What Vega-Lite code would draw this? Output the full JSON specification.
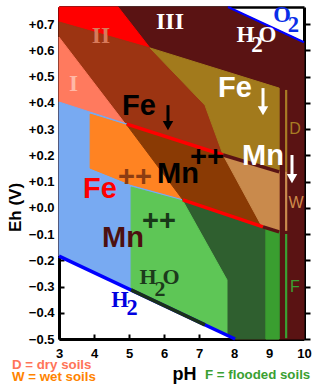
{
  "$schema": "https://vega.github.io/schema/vega-lite/v6.json",
  "width": 245,
  "height": 332,
  "autosize": {"type": "none"},
  "padding": {"left": 59, "top": 7, "right": 16, "bottom": 47},
  "background": "white",
  "config": {
    "view": {"stroke": null},
    "font": "Liberation Sans",
    "axis": {"zindex": 1, "grid": false, "domainColor": "black", "tickColor": "black", "labelColor": "black", "titleColor": "black"}
  },
  "datasets": {
    "regions": [
      {"poly": "a_maroon", "i": 0, "pH": 3, "Eh": 0.765},
      {"poly": "a_maroon", "i": 1, "pH": 7.83, "Eh": 0.765},
      {"poly": "a_maroon", "i": 2, "pH": 10, "Eh": 0.631},
      {"poly": "a_maroon", "i": 3, "pH": 10, "Eh": -0.5},
      {"poly": "a_maroon", "i": 4, "pH": 8.03, "Eh": -0.5},
      {"poly": "a_maroon", "i": 5, "pH": 3, "Eh": -0.184},
      {"poly": "b_red", "i": 0, "pH": 3, "Eh": 0.765},
      {"poly": "b_red", "i": 1, "pH": 4.69, "Eh": 0.765},
      {"poly": "b_red", "i": 2, "pH": 5.6, "Eh": 0.609},
      {"poly": "b_red", "i": 3, "pH": 3, "Eh": 0.708},
      {"poly": "c_rust", "i": 0, "pH": 3, "Eh": 0.708},
      {"poly": "c_rust", "i": 1, "pH": 5.6, "Eh": 0.609},
      {"poly": "c_rust", "i": 2, "pH": 7.17, "Eh": 0.391},
      {"poly": "c_rust", "i": 3, "pH": 7.69, "Eh": 0.201},
      {"poly": "c_rust", "i": 4, "pH": 4.91, "Eh": 0.317},
      {"poly": "c_rust", "i": 5, "pH": 3, "Eh": 0.65},
      {"poly": "d_gold", "i": 0, "pH": 5.6, "Eh": 0.609},
      {"poly": "d_gold", "i": 1, "pH": 9.29, "Eh": 0.456},
      {"poly": "d_gold", "i": 2, "pH": 9.29, "Eh": 0.139},
      {"poly": "d_gold", "i": 3, "pH": 7.69, "Eh": 0.201},
      {"poly": "d_gold", "i": 4, "pH": 7.17, "Eh": 0.391},
      {"poly": "e_salmon", "i": 0, "pH": 3, "Eh": 0.65},
      {"poly": "e_salmon", "i": 1, "pH": 4.91, "Eh": 0.317},
      {"poly": "e_salmon", "i": 2, "pH": 3, "Eh": 0.403},
      {"poly": "f_blue", "i": 0, "pH": 3, "Eh": 0.403},
      {"poly": "f_blue", "i": 1, "pH": 4.94, "Eh": 0.319},
      {"poly": "f_blue", "i": 2, "pH": 6.54, "Eh": 0.03},
      {"poly": "f_blue", "i": 3, "pH": 5.06, "Eh": -0.313},
      {"poly": "f_blue", "i": 4, "pH": 3, "Eh": -0.184},
      {"poly": "g_orange", "i": 0, "pH": 3.89, "Eh": 0.357},
      {"poly": "g_orange", "i": 1, "pH": 4.94, "Eh": 0.314},
      {"poly": "g_orange", "i": 2, "pH": 6.54, "Eh": 0.034},
      {"poly": "g_orange", "i": 3, "pH": 5.03, "Eh": 0.09},
      {"poly": "g_orange", "i": 4, "pH": 3.89, "Eh": 0.151},
      {"poly": "h_mnbrown", "i": 0, "pH": 4.93, "Eh": 0.317},
      {"poly": "h_mnbrown", "i": 1, "pH": 7.69, "Eh": 0.201},
      {"poly": "h_mnbrown", "i": 2, "pH": 8.8, "Eh": -0.07},
      {"poly": "h_mnbrown", "i": 3, "pH": 6.54, "Eh": 0.03},
      {"poly": "i_tan", "i": 0, "pH": 7.69, "Eh": 0.201},
      {"poly": "i_tan", "i": 1, "pH": 9.29, "Eh": 0.139},
      {"poly": "i_tan", "i": 2, "pH": 9.29, "Eh": -0.091},
      {"poly": "i_tan", "i": 3, "pH": 8.8, "Eh": -0.072},
      {"poly": "j_dkgreen", "i": 0, "pH": 6.54, "Eh": 0.03},
      {"poly": "j_dkgreen", "i": 1, "pH": 8.83, "Eh": -0.073},
      {"poly": "j_dkgreen", "i": 2, "pH": 9.29, "Eh": -0.091},
      {"poly": "j_dkgreen", "i": 3, "pH": 9.29, "Eh": -0.5},
      {"poly": "j_dkgreen", "i": 4, "pH": 8.03, "Eh": -0.5},
      {"poly": "j_dkgreen", "i": 5, "pH": 5.06, "Eh": -0.313},
      {"poly": "k_ltgreen", "i": 0, "pH": 5.06, "Eh": 0.079},
      {"poly": "k_ltgreen", "i": 1, "pH": 6.54, "Eh": 0.026},
      {"poly": "k_ltgreen", "i": 2, "pH": 7.8, "Eh": -0.275},
      {"poly": "k_ltgreen", "i": 3, "pH": 7.8, "Eh": -0.486},
      {"poly": "k_ltgreen", "i": 4, "pH": 5.06, "Eh": -0.313},
      {"poly": "l_medgreen", "i": 0, "pH": 8.91, "Eh": -0.078},
      {"poly": "l_medgreen", "i": 1, "pH": 9.29, "Eh": -0.091},
      {"poly": "l_medgreen", "i": 2, "pH": 9.29, "Eh": -0.5},
      {"poly": "l_medgreen", "i": 3, "pH": 8.91, "Eh": -0.5}
    ],
    "lines": [
      {"ln": "L1", "i": 0, "pH": 4.94, "Eh": 0.319},
      {"ln": "L1", "i": 1, "pH": 7.69, "Eh": 0.201},
      {"ln": "L1b", "i": 0, "pH": 7.69, "Eh": 0.201},
      {"ln": "L1b", "i": 1, "pH": 9.29, "Eh": 0.137},
      {"ln": "L2", "i": 0, "pH": 6.54, "Eh": 0.03},
      {"ln": "L2", "i": 1, "pH": 8.83, "Eh": -0.073},
      {"ln": "L2b", "i": 0, "pH": 8.83, "Eh": -0.073},
      {"ln": "L2b", "i": 1, "pH": 9.29, "Eh": -0.092},
      {"ln": "h2", "i": 0, "pH": 3, "Eh": -0.184},
      {"ln": "h2", "i": 1, "pH": 8.03, "Eh": -0.5},
      {"ln": "h2dark", "i": 0, "pH": 5.06, "Eh": -0.313},
      {"ln": "h2dark", "i": 1, "pH": 7.17, "Eh": -0.446},
      {"ln": "o2", "i": 0, "pH": 7.83, "Eh": 0.765},
      {"ln": "o2", "i": 1, "pH": 10, "Eh": 0.631},
      {"ln": "colD", "i": 0, "pH": 9.49, "Eh": 0.449},
      {"ln": "colD", "i": 1, "pH": 9.49, "Eh": 0.139},
      {"ln": "colW", "i": 0, "pH": 9.49, "Eh": 0.139},
      {"ln": "colW", "i": 1, "pH": 9.49, "Eh": -0.088},
      {"ln": "colF", "i": 0, "pH": 9.49, "Eh": -0.1},
      {"ln": "colF", "i": 1, "pH": 9.49, "Eh": -0.497}
    ],
    "arrows": [
      {"a": "k", "pH": 6.114, "top": 0.391, "bot": 0.315, "head": 0.313},
      {"a": "w1", "pH": 8.829, "top": 0.456, "bot": 0.372, "head": 0.37},
      {"a": "w2", "pH": 9.657, "top": 0.201, "bot": 0.113, "head": 0.111}
    ],
    "serif": [
      {"g": "III", "t": "III", "pH": 6.171, "Eh": 0.681},
      {"g": "II", "t": "II", "pH": 4.2, "Eh": 0.628},
      {"g": "I", "t": "I", "pH": 3.414, "Eh": 0.445},
      {"g": "h2oTop", "t": "H", "pH": 8.329, "Eh": 0.631},
      {"g": "h2oTop", "t": "2", "pH": 8.657, "Eh": 0.593},
      {"g": "h2oTop", "t": "O", "pH": 8.957, "Eh": 0.631},
      {"g": "o2", "t": "O", "pH": 9.371, "Eh": 0.708},
      {"g": "o2", "t": "2", "pH": 9.7, "Eh": 0.67},
      {"g": "h2", "t": "H", "pH": 4.743, "Eh": -0.378},
      {"g": "h2", "t": "2", "pH": 5.086, "Eh": -0.409},
      {"g": "h2oLow", "t": "H", "pH": 5.543, "Eh": -0.29},
      {"g": "h2oLow", "t": "2", "pH": 5.886, "Eh": -0.336},
      {"g": "h2oLow", "t": "O", "pH": 6.2, "Eh": -0.29}
    ],
    "big": [
      {"g": "feK", "t": "Fe", "pH": 5.286, "Eh": 0.353},
      {"g": "feW", "t": "Fe", "pH": 8.029, "Eh": 0.422},
      {"g": "mnK", "t": "Mn", "pH": 6.4, "Eh": 0.094},
      {"g": "mnW", "t": "Mn", "pH": 8.829, "Eh": 0.163},
      {"g": "feR", "t": "Fe", "pH": 4.171, "Eh": 0.037},
      {"g": "mnM", "t": "Mn", "pH": 4.829, "Eh": -0.15},
      {"g": "ppK", "t": "++", "pH": 7.229, "Eh": 0.159},
      {"g": "ppB", "t": "++", "pH": 5.171, "Eh": 0.083},
      {"g": "ppG", "t": "++", "pH": 5.857, "Eh": -0.085}
    ],
    "small": [
      {"g": "D", "t": "D", "pH": 9.743, "Eh": 0.281},
      {"g": "W", "t": "W", "pH": 9.771, "Eh": 0.0},
      {"g": "F", "t": "F", "pH": 9.743, "Eh": -0.321}
    ],
    "legend": [
      {"g": "D", "t": "D = dry soils", "pH": 1.657, "Eh": -0.614},
      {"g": "W", "t": "W = wet soils", "pH": 1.657, "Eh": -0.66},
      {"g": "F", "t": "F = flooded soils", "pH": 7.171, "Eh": -0.652}
    ]
  },
  "encoding": {
    "x": {"field": "pH", "type": "quantitative", "scale": {"domain": [3, 10], "nice": false, "zero": false}, "axis": null},
    "y": {"field": "Eh", "type": "quantitative", "scale": {"domain": [-0.5, 0.765], "nice": false, "zero": false}, "axis": null}
  },
  "layer": [
    {
      "data": {"name": "regions"},
      "mark": {"type": "line", "interpolate": "linear-closed", "strokeWidth": 1},
      "encoding": {
        "x": {"field": "pH", "type": "quantitative", "scale": {"domain": [3, 10], "nice": false, "zero": false},
          "axis": {"orient": "bottom", "values": [3, 4, 5, 6, 7, 8, 9, 10], "format": "d", "labelFontSize": 13, "labelFontWeight": "bold", "labelPadding": 13, "labelFlush": false, "tickSize": -5, "tickWidth": 2, "domainWidth": 3, "title": "pH", "titleFontSize": 18, "titleFontWeight": "bold", "titleX": 125, "titleY": 40, "titleAlign": "center", "titleBaseline": "alphabetic"}},
        "y": {"field": "Eh", "type": "quantitative", "scale": {"domain": [-0.5, 0.765], "nice": false, "zero": false},
          "axis": {"orient": "left", "values": [-0.5, -0.4, -0.3, -0.2, -0.1, 0, 0.1, 0.2, 0.3, 0.4, 0.5, 0.6, 0.7], "labelExpr": "(datum.value >= 0 ? '+' : '') + format(datum.value, '.1f')", "labelFontSize": 13, "labelFontWeight": "bold", "labelPadding": 10, "labelOverlap": false, "labelFlush": false, "tickSize": -5, "tickWidth": 2, "domainWidth": 3, "title": "Eh (V)", "titleFontSize": 17, "titleFontWeight": "bold", "titleAngle": 270, "titleX": -39, "titleY": 200, "titleAlign": "center", "titleBaseline": "alphabetic"}},
        "order": {"field": "i", "type": "quantitative"},
        "detail": {"field": "poly", "type": "nominal"},
        "fill": {"field": "poly", "type": "nominal", "legend": null, "scale": {"domain": ["a_maroon", "b_red", "c_rust", "d_gold", "e_salmon", "f_blue", "g_orange", "h_mnbrown", "i_tan", "j_dkgreen", "k_ltgreen", "l_medgreen"], "range": ["#5a1313", "#ff0000", "#9c3412", "#a27a1c", "#ff7a5e", "#78aaf2", "#ff8322", "#8a3a04", "#c98a4c", "#2f5f2f", "#5ec656", "#3a9e30"]}},
        "stroke": {"field": "poly", "type": "nominal", "legend": null, "scale": {"domain": ["a_maroon", "b_red", "c_rust", "d_gold", "e_salmon", "f_blue", "g_orange", "h_mnbrown", "i_tan", "j_dkgreen", "k_ltgreen", "l_medgreen"], "range": ["#5a1313", "#ff0000", "#9c3412", "#a27a1c", "#ff7a5e", "#78aaf2", "#ff8322", "#8a3a04", "#c98a4c", "#2f5f2f", "#5ec656", "#3a9e30"]}}
      }
    },
    {
      "data": {"name": "lines"},
      "transform": [{"filter": {"field": "ln", "oneOf": ["L1", "L1b", "L2", "L2b", "h2", "h2dark"]}}],
      "mark": {"type": "line", "strokeWidth": 3.5, "strokeCap": "butt"},
      "encoding": {
        "order": {"field": "i", "type": "quantitative"},
        "detail": {"field": "ln", "type": "nominal"},
        "stroke": {"field": "ln", "type": "nominal", "legend": null, "scale": {"domain": ["L1", "L1b", "L2", "L2b", "h2", "h2dark"], "range": ["#ff0000", "#5a1313", "#ff0000", "#5a1313", "#0000ff", "#1a301a"]}}
      }
    },
    {
      "data": {"name": "lines"},
      "transform": [{"filter": {"field": "ln", "oneOf": ["o2", "colD", "colW", "colF"]}}],
      "mark": {"type": "line", "strokeWidth": 2.2, "strokeCap": "butt"},
      "encoding": {
        "order": {"field": "i", "type": "quantitative"},
        "detail": {"field": "ln", "type": "nominal"},
        "stroke": {"field": "ln", "type": "nominal", "legend": null, "scale": {"domain": ["o2", "colD", "colW", "colF"], "range": ["#0000ff", "#a87c24", "#c98a4c", "#3aa032"]}}
      }
    },
    {
      "data": {"name": "arrows"},
      "mark": {"type": "rule", "strokeWidth": 3},
      "encoding": {
        "y": {"field": "top", "type": "quantitative", "scale": {"domain": [-0.5, 0.765], "nice": false, "zero": false}, "axis": null},
        "y2": {"field": "bot"},
        "color": {"field": "a", "type": "nominal", "legend": null, "scale": {"domain": ["k", "w1", "w2"], "range": ["black", "white", "white"]}}
      }
    },
    {
      "data": {"name": "arrows"},
      "mark": {"type": "point", "shape": "triangle-down", "filled": true, "size": 110, "opacity": 1},
      "encoding": {
        "y": {"field": "head", "type": "quantitative", "scale": {"domain": [-0.5, 0.765], "nice": false, "zero": false}, "axis": null},
        "color": {"field": "a", "type": "nominal", "legend": null, "scale": {"domain": ["k", "w1", "w2"], "range": ["black", "white", "white"]}}
      }
    },
    {
      "data": {"name": "serif"},
      "mark": {"type": "text", "font": "Liberation Serif", "fontWeight": "bold", "align": "center", "baseline": "alphabetic"},
      "encoding": {
        "text": {"field": "t", "type": "nominal"},
        "color": {"field": "g", "type": "nominal", "legend": null, "scale": {"domain": ["III", "II", "I", "h2oTop", "o2", "h2", "h2oLow"], "range": ["#ffffff", "#d87a5a", "#ffb8a6", "#ffffff", "#0a2ee8", "#0000e0", "#1c3a1c"]}},
        "size": {"field": "g", "type": "nominal", "legend": null, "scale": {"domain": ["III", "II", "I", "h2oTop", "o2", "h2", "h2oLow"], "range": [24, 22, 23, 18, 18, 20, 17]}}
      }
    },
    {
      "data": {"name": "big"},
      "mark": {"type": "text", "font": "Liberation Sans", "fontWeight": "bold", "align": "center", "baseline": "alphabetic"},
      "encoding": {
        "text": {"field": "t", "type": "nominal"},
        "color": {"field": "g", "type": "nominal", "legend": null, "scale": {"domain": ["feK", "feW", "mnK", "mnW", "feR", "mnM", "ppK", "ppB", "ppG"], "range": ["#000000", "#ffffff", "#000000", "#ffffff", "#ff0000", "#4c1010", "#000000", "#8c3c12", "#183818"]}},
        "size": {"field": "g", "type": "nominal", "legend": null, "scale": {"domain": ["feK", "feW", "mnK", "mnW", "feR", "mnM", "ppK", "ppB", "ppG"], "range": [29, 29, 29, 29, 29, 29, 30, 30, 30]}}
      }
    },
    {
      "data": {"name": "small"},
      "mark": {"type": "text", "font": "Liberation Sans", "fontSize": 16, "align": "center", "baseline": "alphabetic"},
      "encoding": {
        "text": {"field": "t", "type": "nominal"},
        "color": {"field": "g", "type": "nominal", "legend": null, "scale": {"domain": ["D", "W", "F"], "range": ["#a87c24", "#d08a4a", "#3aa032"]}}
      }
    },
    {
      "data": {"name": "legend"},
      "mark": {"type": "text", "font": "Liberation Sans", "fontWeight": "bold", "fontSize": 13.3, "align": "left", "baseline": "alphabetic"},
      "encoding": {
        "text": {"field": "t", "type": "nominal"},
        "color": {"field": "g", "type": "nominal", "legend": null, "scale": {"domain": ["D", "W", "F"], "range": ["#ff7458", "#ff8400", "#3aa032"]}}
      }
    },
    {
      "data": {"name": "arrows"},
      "mark": {"type": "point", "opacity": 0},
      "encoding": {
        "x": {"field": "pH", "type": "quantitative", "scale": {"domain": [3, 10], "nice": false, "zero": false},
          "axis": {"orient": "top", "labels": false, "ticks": false, "domainWidth": 2.5, "title": null}},
        "y": {"field": "top", "type": "quantitative", "scale": {"domain": [-0.5, 0.765], "nice": false, "zero": false},
          "axis": {"orient": "right", "values": [-0.5, -0.4, -0.3, -0.2, -0.1, 0, 0.1, 0.2, 0.3, 0.4, 0.5, 0.6, 0.7], "labels": false, "tickSize": 6, "tickWidth": 2, "domainWidth": 3, "title": null}}
      }
    }
  ],
  "resolve": {
    "scale": {"color": "independent", "fill": "independent", "stroke": "independent", "size": "independent"},
    "axis": {"x": "independent", "y": "independent"}
  }
}
